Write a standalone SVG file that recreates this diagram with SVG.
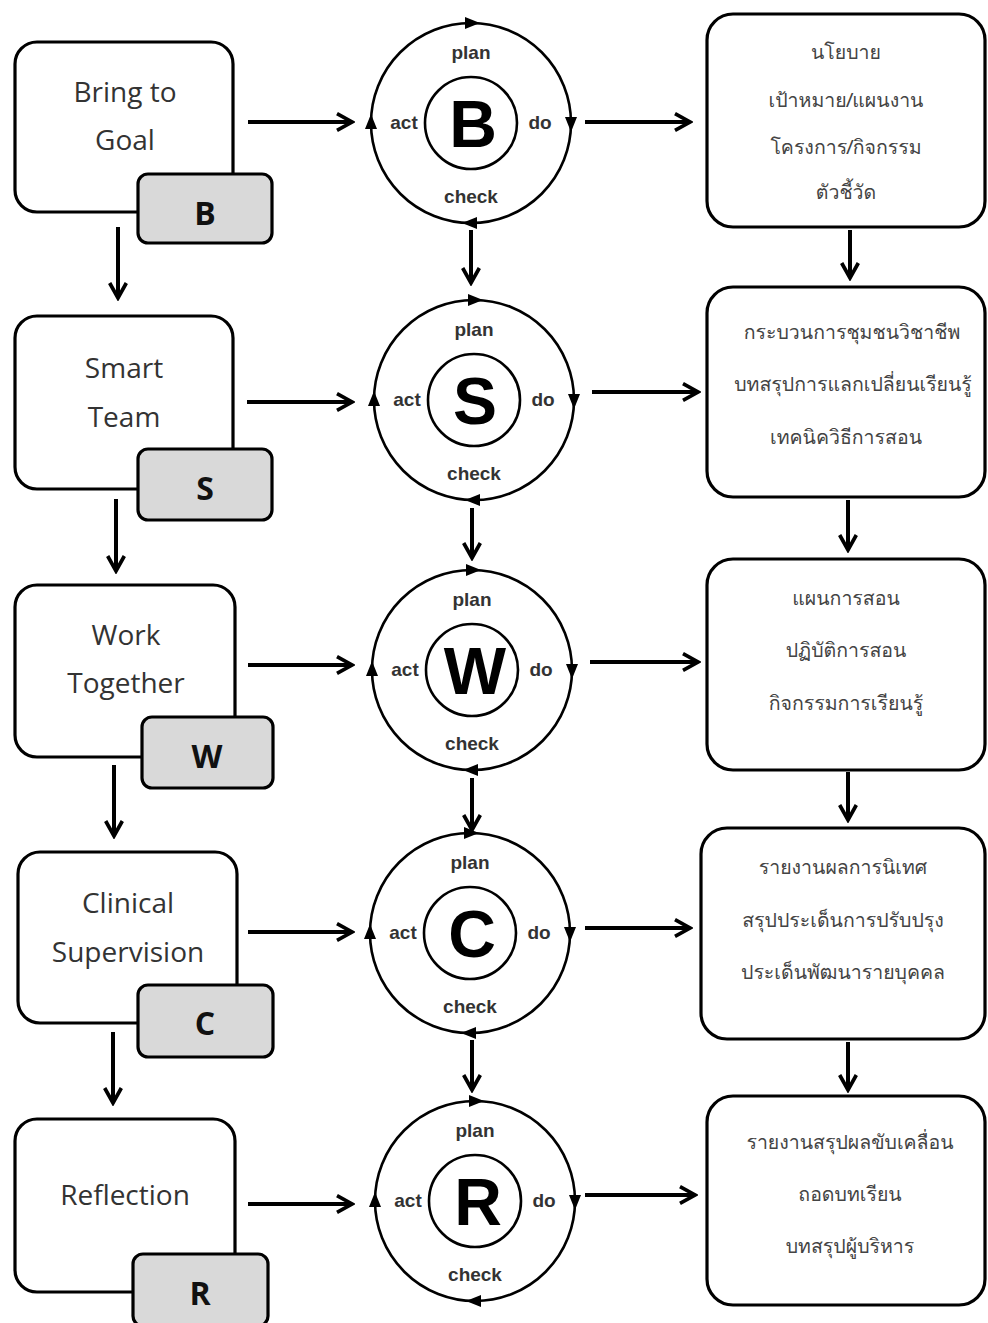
<svg xmlns="http://www.w3.org/2000/svg" xmlns:xlink="http://www.w3.org/1999/xlink" width="988" height="1323" viewBox="0 0 988 1323">
<style>
.box{fill:#fff;stroke:#000;stroke-width:3.2}
.tag{fill:#d9d9d9;stroke:#000;stroke-width:3.2}
.en{font-family:"Open Sans","Liberation Sans",sans-serif;font-size:28px;fill:#333;text-anchor:middle}
.tg{font-family:"Open Sans","Liberation Sans",sans-serif;font-size:32px;font-weight:bold;fill:#111;text-anchor:middle}
.th{font-family:"Tahoma","Loma","Garuda","Noto Sans Thai Looped","Noto Sans Thai","Noto Sans","DejaVu Sans",sans-serif;font-size:19.5px;fill:#444;text-anchor:middle}
.ring{fill:none;stroke:#000;stroke-width:2.6}
.lb{font-family:"Liberation Sans",Arial,sans-serif;font-size:19px;font-weight:bold;fill:#333;text-anchor:middle}
.big{font-family:"Liberation Sans",Arial,sans-serif;font-size:66px;font-weight:bold;fill:#000;text-anchor:middle}
.con{fill:none;stroke:#000;stroke-width:4;marker-end:url(#ah)}
</style>
<defs>
<marker id="ah" viewBox="0 0 12 12" refX="10" refY="6" markerWidth="5" markerHeight="5" orient="auto" markerUnits="strokeWidth">
<path d="M1,1 L10,6 L1,11" fill="none" stroke="#000" stroke-width="2.2" stroke-linejoin="miter"/>
</marker>
<g id="pdca">
<circle class="ring" r="100"/>
<circle class="ring" r="46"/>
<polygon points="9,-100 -6,-106 -6,-94" fill="#000"/>
<polygon points="100,9 94,-6 106,-6" fill="#000"/>
<polygon points="-9,100 6,94 6,106" fill="#000"/>
<polygon points="-100,-9 -106,6 -94,6" fill="#000"/>
<text class="lb" x="0" y="-64">plan</text>
<text class="lb" x="-67" y="6">act</text>
<text class="lb" x="69" y="6">do</text>
<text class="lb" x="0" y="80">check</text>
</g>
</defs>
<rect width="988" height="1323" fill="#fff"/>

<g id="connectors">
<line class="con" x1="248" y1="122" x2="352" y2="122"/>
<line class="con" x1="247" y1="402" x2="352" y2="402"/>
<line class="con" x1="248" y1="665" x2="352" y2="665"/>
<line class="con" x1="248" y1="932" x2="352" y2="932"/>
<line class="con" x1="248" y1="1204" x2="352" y2="1204"/>
<line class="con" x1="118" y1="227" x2="118" y2="298"/>
<line class="con" x1="116" y1="499" x2="116" y2="571"/>
<line class="con" x1="114" y1="765" x2="114" y2="836"/>
<line class="con" x1="113" y1="1032" x2="113" y2="1103"/>
<line class="con" x1="471" y1="230" x2="471" y2="283"/>
<line class="con" x1="472" y1="508" x2="472" y2="558"/>
<line class="con" x1="472" y1="778" x2="472" y2="830"/>
<line class="con" x1="472" y1="1040" x2="472" y2="1090"/>
<line class="con" x1="585" y1="122" x2="690" y2="122"/>
<line class="con" x1="592" y1="392" x2="698" y2="392"/>
<line class="con" x1="590" y1="662" x2="698" y2="662"/>
<line class="con" x1="585" y1="928" x2="690" y2="928"/>
<line class="con" x1="585" y1="1195" x2="695" y2="1195"/>
<line class="con" x1="850" y1="230" x2="850" y2="278"/>
<line class="con" x1="848" y1="500" x2="848" y2="550"/>
<line class="con" x1="848" y1="772" x2="848" y2="820"/>
<line class="con" x1="848" y1="1042" x2="848" y2="1090"/>
</g>

<g id="node-b-left">
<rect class="box" x="15" y="42" width="218" height="170" rx="22"/>
<text class="en" x="125" y="102">Bring to</text>
<text class="en" x="125" y="150">Goal</text>
<rect class="tag" x="138" y="174" width="134" height="69" rx="10"/>
<text class="tg" x="205" y="225">B</text>
</g>
<g id="node-s-left">
<rect class="box" x="15" y="316" width="218" height="173" rx="22"/>
<text class="en" x="124" y="378">Smart</text>
<text class="en" x="124" y="427">Team</text>
<rect class="tag" x="138" y="449" width="134" height="71" rx="10"/>
<text class="tg" x="205" y="500">S</text>
</g>
<g id="node-w-left">
<rect class="box" x="15" y="585" width="220" height="172" rx="22"/>
<text class="en" x="126" y="645">Work</text>
<text class="en" x="126" y="693">Together</text>
<rect class="tag" x="142" y="717" width="131" height="71" rx="10"/>
<text class="tg" x="207" y="768">W</text>
</g>
<g id="node-c-left">
<rect class="box" x="18" y="852" width="219" height="171" rx="22"/>
<text class="en" x="128" y="913">Clinical</text>
<text class="en" x="128" y="962">Supervision</text>
<rect class="tag" x="138" y="985" width="135" height="72" rx="10"/>
<text class="tg" x="205" y="1035">C</text>
</g>
<g id="node-r-left">
<rect class="box" x="15" y="1119" width="220" height="173" rx="22"/>
<text class="en" x="125" y="1205">Reflection</text>
<rect class="tag" x="133" y="1254" width="135" height="72" rx="10"/>
<text class="tg" x="200" y="1305">R</text>
</g>

<g id="node-b-pdca" transform="translate(471,123)">
<use xlink:href="#pdca" href="#pdca"/>
<text class="big" x="2" y="24">B</text>
</g>
<g id="node-s-pdca" transform="translate(474,400)">
<use xlink:href="#pdca" href="#pdca"/>
<text class="big" x="1" y="24">S</text>
</g>
<g id="node-w-pdca" transform="translate(472,670)">
<use xlink:href="#pdca" href="#pdca"/>
<text class="big" x="3" y="24">W</text>
</g>
<g id="node-c-pdca" transform="translate(470,933)">
<use xlink:href="#pdca" href="#pdca"/>
<text class="big" x="2" y="24">C</text>
</g>
<g id="node-r-pdca" transform="translate(475,1201)">
<use xlink:href="#pdca" href="#pdca"/>
<text class="big" x="3" y="24">R</text>
</g>

<g id="node-b-right">
<rect class="box" x="707" y="14" width="278" height="213" rx="26"/>
<text class="th" x="846" y="59">นโยบาย</text>
<text class="th" x="846" y="107">เป้าหมาย/แผนงาน</text>
<text class="th" x="846" y="154">โครงการ/กิจกรรม</text>
<text class="th" x="846" y="199">ตัวชี้วัด</text>
</g>
<g id="node-s-right">
<rect class="box" x="707" y="287" width="278" height="210" rx="26"/>
<text class="th" x="852" y="339">กระบวนการชุมชนวิชาชีพ</text>
<text class="th" x="853" y="391">บทสรุปการแลกเปลี่ยนเรียนรู้</text>
<text class="th" x="846" y="444">เทคนิควิธีการสอน</text>
</g>
<g id="node-w-right">
<rect class="box" x="707" y="559" width="278" height="211" rx="26"/>
<text class="th" x="846" y="605">แผนการสอน</text>
<text class="th" x="846" y="657">ปฏิบัติการสอน</text>
<text class="th" x="846" y="710">กิจกรรมการเรียนรู้</text>
</g>
<g id="node-c-right">
<rect class="box" x="701" y="828" width="284" height="211" rx="26"/>
<text class="th" x="843" y="874">รายงานผลการนิเทศ</text>
<text class="th" x="843" y="927">สรุปประเด็นการปรับปรุง</text>
<text class="th" x="843" y="979">ประเด็นพัฒนารายบุคคล</text>
</g>
<g id="node-r-right">
<rect class="box" x="707" y="1096" width="278" height="209" rx="26"/>
<text class="th" x="850" y="1149">รายงานสรุปผลขับเคลื่อน</text>
<text class="th" x="850" y="1201">ถอดบทเรียน</text>
<text class="th" x="850" y="1253">บทสรุปผู้บริหาร</text>
</g>
</svg>
